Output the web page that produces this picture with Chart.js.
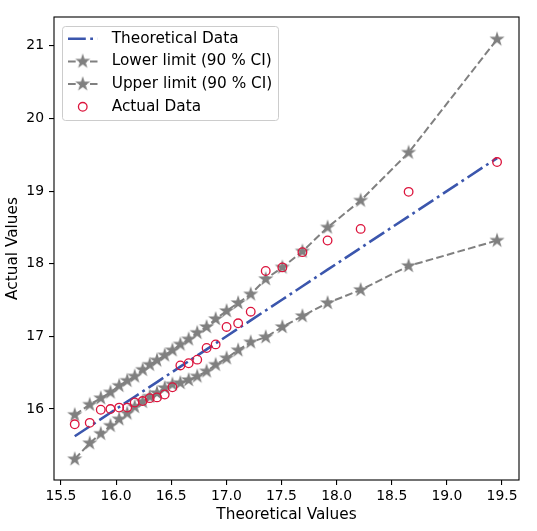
<!DOCTYPE html>
<html><head><meta charset="utf-8">
<script src="https://cdn.jsdelivr.net/npm/chart.js@4.4.1/dist/chart.umd.min.js"></script>
<style>html,body{margin:0;padding:0;background:#fff;} #wrap{width:537px;height:531px;}</style>
</head><body><div id="wrap"><canvas id="c" width="537" height="531"></canvas></div>
<script>
const theoreticalX = [15.625, 15.761, 15.861, 15.949, 16.028, 16.101, 16.169, 16.241, 16.305, 16.371, 16.441, 16.511, 16.583, 16.658, 16.736, 16.821, 16.903, 17.002, 17.107, 17.221, 17.357, 17.508, 17.690, 17.918, 18.218, 18.653, 19.455];
const theoreticalY = [15.625, 15.761, 15.861, 15.949, 16.028, 16.101, 16.169, 16.241, 16.305, 16.371, 16.441, 16.511, 16.583, 16.658, 16.736, 16.821, 16.903, 17.002, 17.107, 17.221, 17.357, 17.508, 17.690, 17.918, 18.218, 18.653, 19.455];
const lowerLimit = [15.31, 15.53, 15.66, 15.77, 15.86, 15.94, 16.03, 16.10, 16.17, 16.22, 16.29, 16.34, 16.36, 16.40, 16.45, 16.52, 16.61, 16.70, 16.81, 16.92, 16.99, 17.13, 17.28, 17.46, 17.64, 17.97, 18.32];
const upperLimit = [15.92, 16.06, 16.15, 16.23, 16.32, 16.39, 16.45, 16.54, 16.61, 16.67, 16.74, 16.81, 16.89, 16.96, 17.05, 17.13, 17.24, 17.35, 17.46, 17.58, 17.79, 17.95, 18.17, 18.50, 18.87, 19.53, 21.09];
const actualY = [15.79, 15.81, 15.99, 16.00, 16.02, 16.02, 16.09, 16.11, 16.15, 16.16, 16.20, 16.30, 16.60, 16.63, 16.68, 16.84, 16.89, 17.13, 17.18, 17.34, 17.90, 17.95, 18.16, 18.32, 18.48, 18.99, 19.40];
const xTicks = [15.5, 16.0, 16.5, 17.0, 17.5, 18.0, 18.5, 19.0, 19.5];
const yTicks = [16, 17, 18, 19, 20, 21];
const seriesLabels = ['Theoretical Data', 'Lower limit (90 % CI)', 'Upper limit (90 % CI)', 'Actual Data'];
const axisTitles = ['Theoretical Values', 'Actual Values'];

const FONT = '"DejaVu Sans", sans-serif';
const BIG = 15.3;
Chart.defaults.font.family = FONT;
Chart.defaults.font.size = 13.9;
Chart.defaults.color = '#000';

function makeStar(R, color) {
  const s = Math.ceil(2 * R + 2);
  const cv = document.createElement('canvas');
  cv.width = s; cv.height = s;
  const g = cv.getContext('2d');
  const cx = s / 2, cy = s / 2, r = R * 0.382;
  g.beginPath();
  for (let k = 0; k < 10; k++) {
    const rr = k % 2 === 0 ? R : r;
    const ang = -Math.PI / 2 + k * Math.PI / 5;
    const px = cx + rr * Math.cos(ang), py = cy + rr * Math.sin(ang);
    if (k === 0) g.moveTo(px, py); else g.lineTo(px, py);
  }
  g.closePath();
  g.fillStyle = color; g.fill();
  return cv;
}
const starImg = makeStar(8, '#808080');

const pts = (xs, ys) => xs.map((x, i) => ({x: x, y: ys[i]}));

const framePlugin = {
  id: 'frame',
  afterDatasetsDraw(chart) {
    const {ctx, chartArea: a} = chart;
    ctx.save();
    ctx.strokeStyle = '#000'; ctx.lineWidth = 1.1;
    ctx.strokeRect(a.left, a.top, a.right - a.left, a.bottom - a.top);
    ctx.restore();
  }
};

const legendPlugin = {
  id: 'mplLegend',
  afterDraw(chart) {
    const {ctx, chartArea: a} = chart;
    const x0 = a.left + 8.5, y0 = a.top + 9.5, w = 216, h = 94;
    ctx.save();
    ctx.beginPath();
    ctx.roundRect(x0, y0, w, h, 3);
    ctx.fillStyle = 'rgba(255,255,255,0.8)'; ctx.fill();
    ctx.strokeStyle = '#cccccc'; ctx.lineWidth = 1; ctx.stroke();
    chart.data.datasets.forEach((ds, i) => {
      const yy = y0 + 12.2 + i * 22.7;
      const lx0 = a.left + 14, lx1 = a.left + 43.5, mx = (lx0 + lx1) / 2;
      if (ds.showLine) {
        ctx.beginPath();
        ctx.setLineDash(ds.borderDash || []);
        ctx.lineWidth = ds.borderWidth; ctx.strokeStyle = ds.borderColor;
        ctx.moveTo(lx0, yy); ctx.lineTo(lx1, yy); ctx.stroke();
        ctx.setLineDash([]);
      }
      if (ds.pointStyle instanceof HTMLCanvasElement) {
        ctx.drawImage(ds.pointStyle, mx - ds.pointStyle.width / 2, yy - ds.pointStyle.height / 2);
      } else if (ds.pointRadius > 0) {
        ctx.beginPath(); ctx.arc(mx, yy, ds.pointRadius, 0, Math.PI * 2);
        ctx.lineWidth = ds.borderWidth; ctx.strokeStyle = ds.borderColor; ctx.stroke();
      }
      ctx.fillStyle = '#000'; ctx.font = BIG + 'px ' + FONT; ctx.textBaseline = 'middle'; ctx.textAlign = 'left';
      ctx.fillText(ds.label, a.left + 57.7, yy);
    });
    ctx.restore();
  }
};

new Chart(document.getElementById('c'), {
  type: 'scatter',
  data: {
    datasets: [
      {label: seriesLabels[0], data: pts(theoreticalX, theoreticalY), showLine: true, borderColor: '#3b56ad', borderWidth: 2.6,
       borderDash: [17.8, 4.4, 2.8, 4.4], pointRadius: 0, order: 3},
      {label: seriesLabels[1], data: pts(theoreticalX, lowerLimit), showLine: true, borderColor: '#808080', borderWidth: 2,
       borderDash: [7.7, 3.3], pointStyle: starImg, pointRadius: 7, order: 2},
      {label: seriesLabels[2], data: pts(theoreticalX, upperLimit), showLine: true, borderColor: '#808080', borderWidth: 2,
       borderDash: [7.7, 3.3], pointStyle: starImg, pointRadius: 7, order: 1},
      {label: seriesLabels[3], data: pts(theoreticalX, actualY), showLine: false, borderColor: '#dc143c', backgroundColor: 'rgba(0,0,0,0)',
       borderWidth: 1.3, pointStyle: 'circle', pointRadius: 4.3, order: 0}
    ]
  },
  options: {
    responsive: false, animation: false,
    layout: {padding: {top: 17, right: 18, left: 0, bottom: 0}},
    plugins: {legend: {display: false}, tooltip: {enabled: false}},
    scales: {
      x: {
        type: 'linear', min: 15.437, max: 19.654,
        afterBuildTicks: s => { s.ticks = xTicks.map(v => ({value: v})); },
        afterFit: s => { s.height = 51; },
        ticks: {callback: v => Number(v).toFixed(1), padding: 3, maxRotation: 0, autoSkip: false, font: {size: 13.9}},
        grid: {display: true, drawOnChartArea: false, drawTicks: true, tickLength: 5, color: '#000', lineWidth: 1.1},
        border: {display: false},
        title: {display: true, text: axisTitles[0], font: {size: BIG}, padding: {top: 0, bottom: 6.8}}
      },
      y: {
        type: 'linear', min: 15.023, max: 21.397,
        afterBuildTicks: s => { s.ticks = yTicks.map(v => ({value: v})); },
        afterFit: s => { s.width = 54; },
        ticks: {callback: v => String(v), padding: 5, autoSkip: false, font: {size: 13.9}},
        grid: {display: true, drawOnChartArea: false, drawTicks: true, tickLength: 5, color: '#000', lineWidth: 1.1},
        border: {display: false},
        title: {display: true, text: axisTitles[1], font: {size: BIG}, padding: {top: 3.8, bottom: 0}}
      }
    }
  },
  plugins: [framePlugin, legendPlugin]
});
</script></body></html>
